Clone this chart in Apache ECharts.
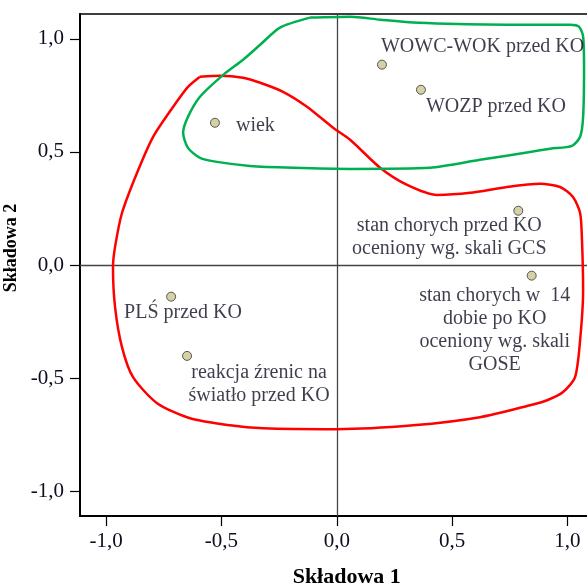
<!DOCTYPE html>
<html>
<head>
<meta charset="utf-8">
<script src="https://cdn.jsdelivr.net/npm/echarts@6/dist/echarts.min.js"></script>
<style>
  html, body { margin: 0; padding: 0; background: #fff; overflow: hidden; }
  #chart { width: 600px; height: 586px; }
</style>
</head>
<body>
<div id="chart"></div>
<script>
// Variable names and their loadings on the two components
const names = [
  'WOWC-WOK przed KO',
  'WOZP przed KO',
  'wiek',
  'stan chorych przed KO\noceniony wg. skali GCS',
  'stan chorych w  14\ndobie po KO\noceniony wg. skali\nGOSE',
  'PLŚ przed KO',
  'reakcja źrenic na\nświatło przed KO'
];
const comp1 = [0.196, 0.365, -0.528, 0.787, 0.845, -0.718, -0.649];
const comp2 = [0.886, 0.775, 0.629, 0.240, -0.047, -0.140, -0.402];

// Tick values shown on both axes
const tickValues = [-1.0, -0.5, 0.0, 0.5, 1.0];

// Hand-drawn grouping outlines (component 1, component 2)
const redGroupX = [-0.593, -0.506, -0.406, -0.332, -0.233, -0.129, -0.016, 0.058, 0.188, 0.305, 0.435, 0.578, 0.738, 0.881, 0.968, 1.024, 1.055, 1.063, 1.068, 1.055, 1.033, 0.981, 0.912, 0.838, 0.621, 0.331, 0.001, -0.319, -0.463, -0.636, -0.779, -0.883, -0.931, -0.961, -0.970, -0.961, -0.931, -0.866, -0.796, -0.709, -0.645, -0.593];
const redGroupY = [0.833, 0.837, 0.828, 0.806, 0.766, 0.700, 0.607, 0.554, 0.430, 0.354, 0.310, 0.319, 0.345, 0.359, 0.345, 0.301, 0.230, 0.111, -0.111, -0.332, -0.496, -0.562, -0.598, -0.620, -0.673, -0.709, -0.726, -0.722, -0.709, -0.678, -0.611, -0.496, -0.363, -0.186, -0.009, 0.080, 0.230, 0.407, 0.567, 0.700, 0.788, 0.833];
const greenGroupX = [-0.116, 0.058, 0.188, 0.331, 0.478, 0.764, 1.011, 1.050, 1.068, 1.072, 1.068, 1.055, 1.020, 0.925, 0.838, 0.621, 0.404, 0.058, -0.188, -0.376, -0.519, -0.593, -0.645, -0.666, -0.645, -0.593, -0.492, -0.406, -0.332, -0.246, -0.116];
const greenGroupY = [1.094, 1.098, 1.085, 1.072, 1.067, 1.063, 1.063, 1.054, 1.010, 0.864, 0.655, 0.567, 0.527, 0.514, 0.500, 0.465, 0.430, 0.425, 0.430, 0.438, 0.456, 0.474, 0.518, 0.585, 0.655, 0.744, 0.841, 0.908, 0.974, 1.050, 1.094];

// Label placement for each point: [dx, dy] from the marker, and alignment
const labelPlacement = [
  { offset: [-1, -18], align: 'left' },
  { offset: [5, 17], align: 'left' },
  { offset: [21, 3], align: 'left' },
  { offset: [-69, 27], align: 'center' },
  { offset: [-37, 55], align: 'center' },
  { offset: [-47, 16], align: 'left' },
  { offset: [72, 28], align: 'center' }
];

const SERIF = '"Liberation Serif", "DejaVu Serif", serif';
const TEXT = '#0d0d1f';
const fmt = v => v.toFixed(1).replace('.', ',');
const zip = (xs, ys) => xs.map((x, i) => [x, ys[i]]);

const pointData = names.map((n, i) => ({
  name: n,
  value: [comp1[i], comp2[i]],
  label: {
    offset: labelPlacement[i].offset,
    align: labelPlacement[i].align
  }
}));

const chart = echarts.init(document.getElementById('chart'), null, { renderer: 'canvas' });

chart.setOption({
  animation: false,
  backgroundColor: '#fff',
  grid: {
    left: 80, top: 14, right: 6.5, bottom: 70,
    containLabel: false, outerBoundsMode: 'none',
    show: true, borderColor: '#000', borderWidth: 1.5, backgroundColor: 'transparent'
  },
  xAxis: {
    type: 'value', min: -1.113, max: 1.113,
    axisLine: { show: true, onZero: false, lineStyle: { color: '#000', width: 2 } },
    axisTick: { show: true, customValues: tickValues, length: 10, lineStyle: { color: '#000', width: 1.2 } },
    axisLabel: { customValues: tickValues, formatter: fmt, margin: 15, fontFamily: SERIF, fontSize: 21, color: TEXT },
    splitLine: { show: false },
    name: 'Składowa 1', nameLocation: 'middle', nameGap: 50,
    nameTextStyle: { fontFamily: SERIF, fontSize: 22, fontWeight: 'bold', color: '#000', padding: [0, 0, 0, 20] }
  },
  yAxis: {
    type: 'value', min: -1.11, max: 1.11,
    axisLine: { show: true, onZero: false, lineStyle: { color: '#000', width: 2 } },
    axisTick: { show: true, customValues: tickValues, length: 10, lineStyle: { color: '#000', width: 1.2 } },
    axisLabel: { customValues: tickValues, formatter: fmt, margin: 16, fontFamily: SERIF, fontSize: 21, color: TEXT },
    splitLine: { show: false },
    name: 'Składowa 2', nameLocation: 'middle', nameGap: 48,
    nameTextStyle: { fontFamily: SERIF, fontSize: 18, fontWeight: 'bold', color: '#000', padding: [0, 0, 0, 34] }
  },
  series: [
    {
      type: 'line', name: 'grupa 1', data: zip(redGroupX, redGroupY),
      smooth: 0.25, symbol: 'none', z: 2, silent: true,
      lineStyle: { color: '#ff0000', width: 2.5 },
      markLine: {
        silent: true, symbol: 'none', label: { show: false },
        lineStyle: { color: '#444', width: 1.3, type: 'solid' },
        data: [{ xAxis: 0 }, { yAxis: 0 }],
        z: 1
      }
    },
    {
      type: 'line', name: 'grupa 2', data: zip(greenGroupX, greenGroupY),
      smooth: 0.25, symbol: 'none', z: 2, silent: true,
      lineStyle: { color: '#00b050', width: 2.5 }
    },
    {
      type: 'scatter', name: 'zmienne', data: pointData, z: 5,
      symbol: 'circle', symbolSize: 9,
      itemStyle: { color: '#cbc590', borderColor: '#333', borderWidth: 1 },
      label: {
        show: true, position: 'inside', verticalAlign: 'middle',
        formatter: p => p.name,
        fontFamily: SERIF, fontSize: 20, lineHeight: 23, color: TEXT
      }
    }
  ]
});
</script>
</body>
</html>
